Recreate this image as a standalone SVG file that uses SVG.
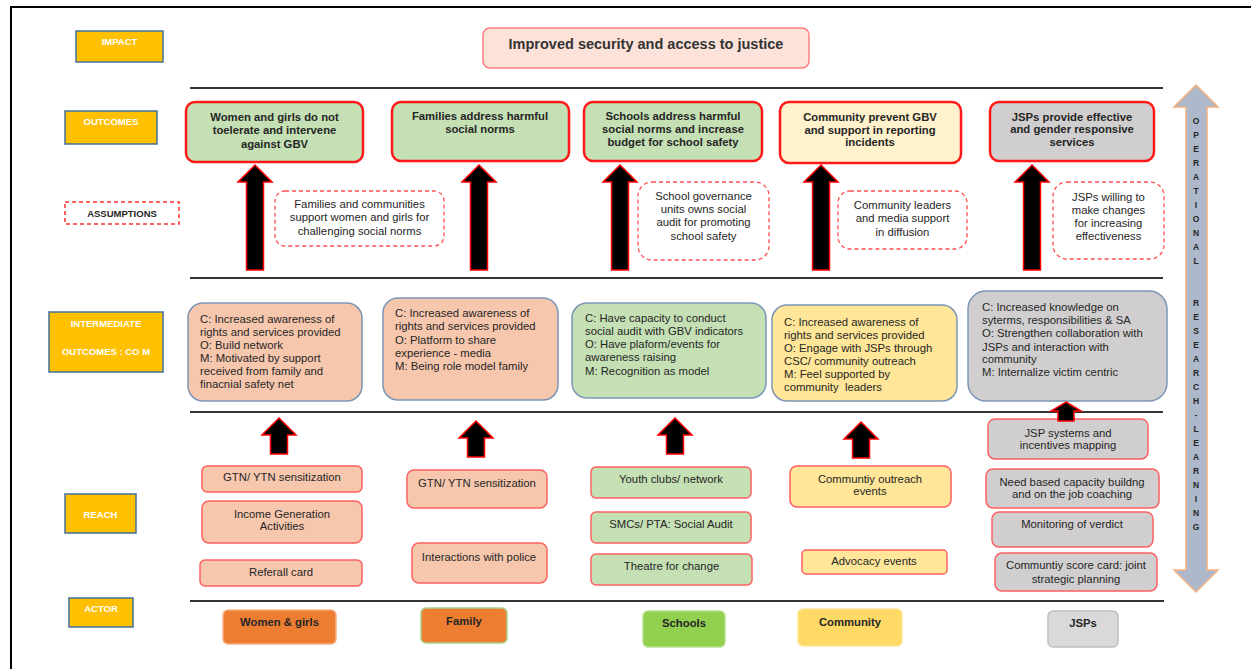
<svg xmlns="http://www.w3.org/2000/svg" width="1251" height="669" viewBox="0 0 1251 669">
<style>
text{font-family:"Liberation Sans",Arial,sans-serif;fill:#262626}
.lbl rect{fill:#FFC000;stroke:#41719C;stroke-width:1.5}
.lbl text{fill:#fff;font-weight:bold;font-size:9.5px;text-anchor:middle}
.out rect{stroke:#FF1A1A;stroke-width:2.5}
.out text{font-weight:bold;font-size:11.3px;text-anchor:middle}
.asm rect{fill:#fff;stroke:#FF5050;stroke-width:1.3;stroke-dasharray:4 3}
.asm text{font-size:11.3px;text-anchor:middle}
.mid rect{stroke:#7C96B6;stroke-width:1.5}
.mid text{font-size:11.3px}
.rch rect{stroke:#FF6060;stroke-width:1.5}
.rch text{font-size:11.3px;text-anchor:middle}
.act text{font-weight:bold;font-size:11.3px;text-anchor:middle}
.sep{stroke:#333;stroke-width:2}
.arr{fill:#000;stroke:#FF0000;stroke-width:1.5}
.pk{fill:#F6C7AD}.gr{fill:#C5E0B4}.yl{fill:#FFE699}.gy{fill:#D0CECE}
.vt{font-weight:bold;font-size:8.5px;text-anchor:middle}
</style>
<defs>
<path id="bigArrow" class="arr" d="M0,0 L17,17 L8.5,17 L8.5,105 L-8.5,105 L-8.5,17 L-17,17 Z"/>
<path id="smallArrow" class="arr" d="M0,0 L17,17 L8.5,17 L8.5,36 L-8.5,36 L-8.5,17 L-17,17 Z"/>
</defs>
<rect width="1251" height="669" fill="#fff"/>
<path d="M11,669 V7 H1251" fill="none" stroke="#000" stroke-width="2"/>

<g id="separators">
<line class="sep" x1="190" y1="88" x2="1163" y2="88"/>
<line class="sep" x1="190" y1="278" x2="1163" y2="278"/>
<line class="sep" x1="190" y1="412" x2="1163" y2="412"/>
<line class="sep" x1="190" y1="601" x2="1164" y2="601"/>
</g>

<g id="labels" class="lbl">
<g id="lbl-impact"><rect x="76" y="31" width="87" height="31"/><text x="119.5" y="45">IMPACT</text></g>
<g id="lbl-outcomes"><rect x="65" y="111" width="92" height="33"/><text x="111" y="125">OUTCOMES</text></g>
<g id="lbl-assumptions"><rect x="65" y="202" width="114" height="22" style="fill:#fff;stroke:#FF3030;stroke-dasharray:4 3"/><text x="122" y="217" style="fill:#262626">ASSUMPTIONS</text></g>
<g id="lbl-intermediate"><rect x="49" y="312" width="114" height="60"/><text x="106" y="327">INTERMEDIATE</text><text x="106" y="355">OUTCOMES : CO M</text></g>
<g id="lbl-reach"><rect x="65" y="494" width="71" height="39"/><text x="100.5" y="518">REACH</text></g>
<g id="lbl-actor"><rect x="69" y="598" width="64" height="29"/><text x="101" y="612">ACTOR</text></g>
</g>

<g id="impact">
<rect x="483" y="28" width="326" height="40" rx="7" fill="#FCE2D8" stroke="#FF7F7F" stroke-width="1.5"/>
<text x="646" y="49" font-size="14.5px" font-weight="bold" text-anchor="middle" style="fill:#333">Improved security and access to justice</text>
</g>

<g id="outcomes" class="out">
<g id="out-women"><rect class="gr" x="186" y="102" width="177" height="60" rx="9"/><text x="274.5" y="121">Women and girls do not</text><text x="274.5" y="134">toelerate and intervene</text><text x="274.5" y="148">against GBV</text></g>
<g id="out-family"><rect class="gr" x="392" y="102" width="177" height="59" rx="9"/><text x="480" y="120">Families address harmful</text><text x="480" y="133">social norms</text></g>
<g id="out-schools"><rect class="gr" x="584" y="102" width="178" height="59" rx="9"/><text x="673" y="120">Schools address harmful</text><text x="673" y="133">social norms and increase</text><text x="673" y="146">budget for school safety</text></g>
<g id="out-community"><rect x="780" y="102" width="181" height="61" rx="9" fill="#FFF2CC"/><text x="870" y="121">Community prevent GBV</text><text x="870" y="134">and support in reporting</text><text x="870" y="146">incidents</text></g>
<g id="out-jsps"><rect class="gy" x="990" y="102" width="164" height="59" rx="9"/><text x="1072" y="121">JSPs provide effective</text><text x="1072" y="133">and gender responsive</text><text x="1072" y="146">services</text></g>
</g>

<g id="assumptions" class="asm">
<g id="asm-1"><rect x="275" y="191" width="169" height="55" rx="10"/><text x="359.5" y="208">Families and communities</text><text x="359.5" y="221">support women and girls for</text><text x="359.5" y="235">challenging social norms</text></g>
<g id="asm-2"><rect x="638" y="182" width="131" height="78" rx="14"/><text x="703.5" y="200">School governance</text><text x="703.5" y="213">units owns social</text><text x="703.5" y="226">audit for promoting</text><text x="703.5" y="240">school safety</text></g>
<g id="asm-3"><rect x="838" y="191" width="129" height="58" rx="12"/><text x="902.5" y="209">Community leaders</text><text x="902.5" y="222">and media support</text><text x="902.5" y="236">in diffusion</text></g>
<g id="asm-4"><rect x="1053" y="182" width="111" height="77" rx="14"/><text x="1108.5" y="201">JSPs willing to</text><text x="1108.5" y="214">make changes</text><text x="1108.5" y="227">for increasing</text><text x="1108.5" y="240">effectiveness</text></g>
</g>

<g id="intermediate" class="mid">
<g id="mid-women"><rect class="pk" x="188" y="303" width="174" height="98" rx="15"/>
<text x="200" y="323">C: Increased awareness of</text><text x="200" y="336">rights and services provided</text><text x="200" y="349">O: Build network</text><text x="200" y="362">M: Motivated by support</text><text x="200" y="375">received from family and</text><text x="200" y="388">finacnial safety net</text></g>
<g id="mid-family"><rect class="pk" x="383" y="298" width="175" height="102" rx="15"/>
<text x="395" y="317">C: Increased awareness of</text><text x="395" y="330">rights and services provided</text><text x="395" y="344">O: Platform to share</text><text x="395" y="357">experience - media</text><text x="395" y="370">M: Being role model family</text></g>
<g id="mid-schools"><rect class="gr" x="572" y="303" width="194" height="95" rx="15"/>
<text x="585" y="322">C: Have capacity to conduct</text><text x="585" y="335">social audit with GBV indicators</text><text x="585" y="348">O: Have plaform/events for</text><text x="585" y="361">awareness raising</text><text x="585" y="375">M: Recognition as model</text></g>
<g id="mid-community"><rect class="yl" x="772" y="305" width="185" height="96" rx="15"/>
<text x="784" y="326">C: Increased awareness of</text><text x="784" y="339">rights and services provided</text><text x="784" y="352">O: Engage with JSPs through</text><text x="784" y="365">CSC/ community outreach</text><text x="784" y="378">M: Feel supported by</text><text x="784" y="391" style="white-space:pre" xml:space="preserve">community  leaders</text></g>
<g id="mid-jsps"><rect class="gy" x="968" y="291" width="199" height="110" rx="18"/>
<text x="982" y="311">C: Increased knowledge on</text><text x="982" y="324">syterms, responsibilities &amp; SA</text><text x="982" y="337">O: Strengthen collaboration with</text><text x="982" y="351">JSPs and interaction with</text><text x="982" y="363">community</text><text x="982" y="376">M: Internalize victim centric</text></g>
</g>

<g id="reach" class="rch">
<g id="rch-women">
<rect class="pk" x="202" y="466" width="160" height="26" rx="5"/><text x="282" y="481">GTN/ YTN sensitization</text>
<rect class="pk" x="202" y="501" width="160" height="42" rx="7"/><text x="282" y="518">Income Generation</text><text x="282" y="530">Activities</text>
<rect class="pk" x="200" y="560" width="162" height="26" rx="5"/><text x="281" y="576">Referall card</text>
</g>
<g id="rch-family">
<rect class="pk" x="407" y="470" width="140" height="38" rx="7"/><text x="477" y="487">GTN/ YTN sensitization</text>
<rect class="pk" x="412" y="543" width="135" height="40" rx="7"/><text x="479" y="561">Interactions with police</text>
</g>
<g id="rch-schools">
<rect class="gr" x="591" y="467" width="160" height="31" rx="5"/><text x="671" y="483">Youth clubs/ network</text>
<rect class="gr" x="591" y="512" width="160" height="31" rx="5"/><text x="671" y="528">SMCs/ PTA: Social Audit</text>
<rect class="gr" x="591" y="554" width="161" height="31" rx="5"/><text x="671.5" y="570">Theatre for change</text>
</g>
<g id="rch-community">
<rect class="yl" x="790" y="466" width="161" height="41" rx="7"/><text x="870" y="483">Communtiy outreach</text><text x="870" y="495">events</text>
<rect class="yl" x="802" y="550" width="145" height="24" rx="4"/><text x="874" y="565">Advocacy events</text>
</g>
<g id="rch-jsps">
<rect class="gy" x="988" y="419" width="160" height="40" rx="7"/><text x="1068" y="437">JSP systems and</text><text x="1068" y="449">incentives mapping</text>
<rect class="gy" x="986" y="469" width="173" height="39" rx="7"/><text x="1072" y="486">Need based capacity buildng</text><text x="1072" y="498">and on the job coaching</text>
<rect class="gy" x="992" y="512" width="161" height="35" rx="7"/><text x="1072" y="528">Monitoring of verdict</text>
<rect class="gy" x="995" y="553" width="162" height="38" rx="7"/><text x="1076" y="569">Communtiy score card: joint</text><text x="1076" y="583">strategic planning</text>
</g>
</g>

<g id="actors" class="act">
<g id="act-women"><rect x="223" y="610" width="113" height="34" rx="5" fill="#ED7D31" stroke="#F4B183" stroke-width="1.5"/><text x="279.5" y="626">Women &amp; girls</text></g>
<g id="act-family"><rect x="421" y="608" width="86" height="35" rx="5" fill="#ED7D31" stroke="#A9D18E" stroke-width="1.5"/><text x="464" y="625">Family</text></g>
<g id="act-schools"><rect x="643" y="611" width="82" height="36" rx="5" fill="#92D050" stroke="#B5E08A" stroke-width="1.5"/><text x="684" y="627">Schools</text></g>
<g id="act-community"><rect x="798" y="609" width="104" height="37" rx="5" fill="#FFD966" stroke="#FFE699" stroke-width="1.5"/><text x="850" y="626">Community</text></g>
<g id="act-jsps"><rect x="1048" y="611" width="70" height="36" rx="5" fill="#D9D9D9" stroke="#BFBFBF" stroke-width="1.5"/><text x="1083" y="627">JSPs</text></g>
</g>

<g id="connectors">
<use href="#bigArrow" x="255" y="165"/>
<use href="#bigArrow" x="479" y="165"/>
<use href="#bigArrow" x="620" y="165"/>
<use href="#bigArrow" x="821" y="165"/>
<use href="#bigArrow" x="1032" y="165"/>
<use href="#smallArrow" x="279" y="418"/>
<use href="#smallArrow" x="476" y="421"/>
<use href="#smallArrow" x="675" y="418"/>
<use href="#smallArrow" x="861" y="422"/>
<path class="arr" d="M1066,402 L1081,411 L1074,411 L1074,421 L1058,421 L1058,411 L1051,411 Z"/>
</g>

<g id="research-arrow">
<path d="M1196,85 L1218,107 L1207,107 L1207,570 L1218,570 L1196,592 L1174,570 L1186,570 L1186,107 L1174,107 Z" fill="#ADB9CA" stroke="#F4B183" stroke-width="1.5"/>
<text class="vt"><tspan x="1196" y="124">O</tspan><tspan x="1196" y="138">P</tspan><tspan x="1196" y="152">E</tspan><tspan x="1196" y="166">R</tspan><tspan x="1196" y="180">A</tspan><tspan x="1196" y="194">T</tspan><tspan x="1196" y="208">I</tspan><tspan x="1196" y="222">O</tspan><tspan x="1196" y="236">N</tspan><tspan x="1196" y="250">A</tspan><tspan x="1196" y="264">L</tspan><tspan x="1196" y="306">R</tspan><tspan x="1196" y="320">E</tspan><tspan x="1196" y="334">S</tspan><tspan x="1196" y="348">E</tspan><tspan x="1196" y="362">A</tspan><tspan x="1196" y="376">R</tspan><tspan x="1196" y="390">C</tspan><tspan x="1196" y="404">H</tspan><tspan x="1196" y="418">-</tspan><tspan x="1196" y="432">L</tspan><tspan x="1196" y="446">E</tspan><tspan x="1196" y="460">A</tspan><tspan x="1196" y="474">R</tspan><tspan x="1196" y="488">N</tspan><tspan x="1196" y="502">I</tspan><tspan x="1196" y="516">N</tspan><tspan x="1196" y="530">G</tspan></text>
</g>
</svg>
